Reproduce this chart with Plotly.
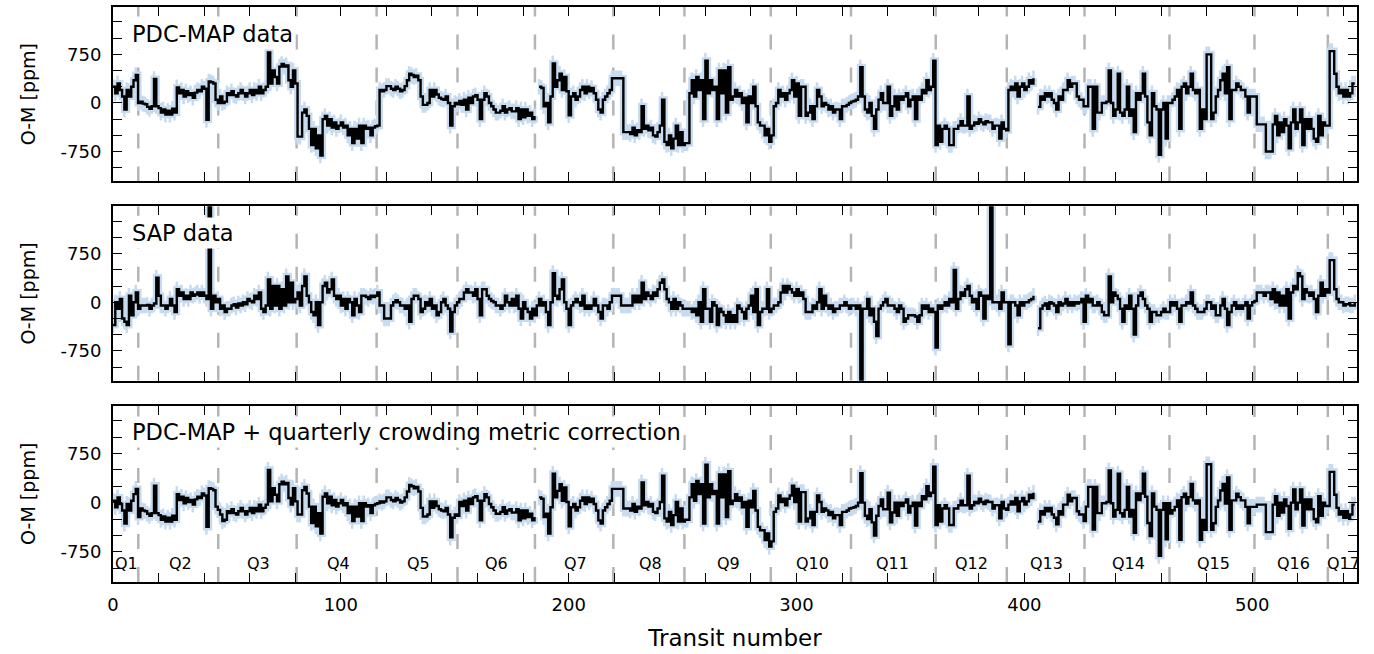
import plotly.graph_objects as go
from plotly.subplots import make_subplots

# ---------------- data ----------------
# O-M residuals per transit, ppm (None = no transit / gap)
pdc_map = [
    250, 150, 300, 200, 100, -100, 200, 100, 250, 350,          # 0
    430, 0, 20, -10, -20, -60, -90, -50, 370, -50,              # 10
    -80, -150, -100, -180, -120, -180, -90, -150, 240, 150,     # 20
    200, 100, 180, 120, 150, 80, 160, 200, 180, 250,            # 30
    220, -260, 330, 320, 300, 50, 0, 100, 0, 20,                # 40
    150, 120, 180, 120, 100, 150, 200, 150, 100, 150,           # 50
    200, 120, 200, 150, 250, 150, 200, 250, 780, 300,           # 60
    500, 400, 300, 560, 600, 560, 580, 350, 250, 500,           # 70
    300, -520, -520, -150, -100, -200, -400, -650, -400, -700,  # 80
    -500, -810, -250, -200, -350, -250, -380, -300, -400, -350, # 90
    -300, -380, -350, -500, -400, -620, -400, -550, -350, -620, # 100
    -350, -400, -380, -500, -380, -360, -350, 200, 180, 200,    # 110
    260, 260, 220, 200, 250, 220, 180, 200, 260, 350,           # 120
    450, 430, 400, 420, 350, 100, -30, -30, 0, 200,             # 130
    100, 200, 130, 80, 60, 50, 100, 0, -350, -50,               # 140
    0, -20, 30, -30, 50, -100, 80, 0, 100, 120,                 # 150
    50, -250, 50, 150, 100, 0, -50, -100, -150, -150,           # 160
    -120, -50, -150, -100, -80, -130, -130, -80, -250, -100,    # 170
    -220, -100, -200, -150, -250, -200, None, 250, 230, -50,    # 180
    0, -300, 100, 610, 250, 350, 450, 200, 400, 180,            # 190
    -190, 100, 150, 50, 100, 200, 250, 150, 250, 180,           # 200
    230, 150, 50, -100, -150, 50, 100, 150, 200, 380,           # 210
    380, 380, 380, 380, -450, -450, -450, -480, -380, -500,     # 220
    -420, -450, -50, -400, -350, -420, -380, -500, -520, -450,  # 230
    -350, 50, -600, -650, -500, -700, -550, -350, -650, -450,   # 240
    -650, -620, -620, 150, 350, 100, 400, 200, 350, -250,       # 250
    650, 150, 350, 200, 250, -250, 500, 150, 500, -150,         # 260
    550, 50, 100, 200, 100, 150, 0, 80, -300, 100,              # 270
    0, 250, -50, -300, -350, -350, -500, -400, -600, -500,      # 280
    -50, 0, 200, 100, 150, 50, 150, 200, 350, 100,              # 290
    300, -200, 250, 250, -200, -150, -50, -250, -50, 200,       # 300
    100, -50, 0, -30, -100, -50, -150, -100, -100, -250,        # 310
    -50, -50, -30, 0, 20, 30, 50, 100, 550, 100,                # 320
    -100, -150, 0, -200, -400, -100, 50, 150, 0, 0,             # 330
    250, -200, -50, 100, -100, 100, 50, 100, 150, -50,          # 340
    50, 100, -250, 100, 50, 200, 150, 350, 200, 250,            # 350
    650, -650, -350, -600, -400, -350, -400, -650, -650, -400,  # 360
    -400, -350, -280, -350, -350, 100, -400, -350, -300, -320,  # 370
    -250, -300, -330, -280, -300, -300, -400, -350, -350, -550, # 380
    -300, -400, -420, 200, 250, 200, 300, 100, 250, 300,        # 390
    200, 250, 350, 300, 380, None, -60, 100, 50, 150,           # 400
    100, 150, 50, 0, -100, 100, 50, 200, 200, 350,              # 410
    250, 300, 300, 100, 50, 50, -50, -50, 250, 250,             # 420
    -400, 250, -150, -150, 0, 0, 20, 500, 0, -200,              # 430
    -100, 450, -150, -200, -100, 250, -200, -100, -450, 150,    # 440
    50, 150, 450, 100, -300, -500, 150, -50, -100, -800,        # 450
    -100, 0, -550, 0, 0, 50, 100, 200, -400, 250,               # 460
    300, 150, 250, 450, 200, 150, 200, -400, -100, -250,        # 470
    750, 750, -250, -150, 100, 200, 350, 450, 150, 550,         # 480
    -250, 200, 200, 300, 250, 200, 200, 100, -150, 100,         # 490
    100, 100, -330, -330, -330, -330, -750, -750, -750, -330,   # 500
    -200, -500, -300, -450, -250, -350, -700, -300, -100, -400, # 510
    -300, -100, -650, -250, -400, -250, -400, -550, -600, -200, # 520
    -500, -300, -350, -350, 800, 800, 450, 250, 150, 200,       # 530
    100, 200, 100, 150, 300, 300,                               # 540
]

sap = [
    -350, 0, -100, 50, -250, -300, -350, 100, -200, 0,          # 0
    150, -100, -50, -50, -50, -40, -100, -50, -20, 380,         # 10
    100, -50, -50, -100, -50, 50, -50, -150, 200, 100,          # 20
    150, 50, 100, 50, 150, 100, 120, 150, 100, 150,             # 30
    100, 50, 2000, -100, 100, 0, 50, -100, -50, -150,           # 40
    -100, -100, -50, -30, -80, -20, -50, 0, -30, 50,            # 50
    20, 0, 100, 50, 150, -100, -150, -50, 350, -100,            # 60
    250, -50, 250, -100, 200, -50, 400, 0, 300, 0,              # 70
    50, 150, -50, 250, 400, 100, 0, -150, -200, 0,              # 80
    -350, 0, 250, 300, 150, 200, 350, 100, 50, 100,             # 90
    -50, 50, -100, 50, 0, -200, 50, -50, -150, 100,             # 100
    100, 80, 50, 100, 80, 100, 150, -50, -50, -250,             # 110
    -250, -250, -50, 0, 30, 0, -50, -50, -100, -50,             # 120
    -300, 50, 100, 100, 50, -150, -100, 0, -50, 50,             # 130
    -100, -50, -200, -150, 0, 50, -50, -100, -450, -150,        # 140
    -50, 0, 50, 50, 150, 200, 150, 150, 100, 200,               # 150
    50, -200, 200, 200, 100, 50, 20, 0, -50, -50,               # 160
    -100, -50, 100, 0, -50, 50, -50, 100, -100, -250,           # 170
    0, -100, -150, -250, -100, -200, -50, 50, -50, 0,           # 180
    -150, -350, 0, 450, 100, 50, 200, 350, 0, -100,             # 190
    -350, -50, 0, 50, 0, -50, 100, -100, -50, -100,             # 200
    -50, 50, -50, -150, -250, -50, -50, -100, 0, 100,           # 210
    100, 100, 100, -50, -50, -50, -50, -50, 100, 0,             # 220
    100, 0, 300, 50, 150, 100, 50, 150, 100, 200,               # 230
    300, 350, 200, 50, 0, -100, 50, -100, 0, -50,               # 240
    -100, -100, -100, -100, -150, -100, -200, 0, -300, 200,     # 250
    -100, -100, -300, 0, -50, -350, -100, -150, -200, -300,     # 260
    -150, -300, -200, -300, -50, -100, -150, -250, -100, -50,   # 270
    100, -150, 200, -350, -150, -100, -100, 200, -150, -100,    # 280
    -50, -50, 0, 150, 250, 150, 250, 200, 150, 100,             # 290
    200, 100, 150, 50, -150, -150, -150, -50, -100, 0,          # 300
    200, -100, 100, -50, -100, -50, -150, -100, -100, -50,      # 310
    -50, 0, -50, -100, -50, -50, -100, -50, -2000, -100,        # 320
    -100, 50, -200, -100, -300, -520, -100, -50, 0, 50,         # 330
    -50, -50, -50, -100, -150, -50, -100, -300, -250, -200,     # 340
    -200, -200, -220, -300, -200, -50, -100, -50, -150, -100,   # 350
    -150, -700, -50, -100, -50, 0, -50, 50, 0, 500,             # 360
    -100, 50, 150, 100, 200, 250, 100, 0, 50, -100,             # 370
    150, 100, -250, 100, 50, 2000, 0, 0, 0, -100,               # 380
    150, 0, 0, -650, 0, 0, -50, -200, 0, -50,                   # 390
    0, 0, 30, 50, 100, None, -400, -100, -50, -20,              # 400
    -100, 0, -20, -50, -150, 0, -50, -20, 50, -50,              # 410
    0, -50, 0, -20, 0, 50, -300, 100, 0, 50,                    # 420
    -50, -50, 0, -50, -150, -200, -200, 400, 0, 150,            # 430
    100, 50, -100, -300, -50, -100, 100, -100, -500, -50,       # 440
    100, 150, 50, -50, -100, -300, -150, -150, -200, -200,      # 450
    -150, -100, -150, -150, 0, -50, 0, -100, -300, -50,         # 460
    -50, 0, -20, 150, -50, -100, -150, -150, -150, -100,        # 470
    0, 0, -100, -50, -200, -200, -50, 50, -100, -350,           # 480
    -150, -50, 0, -100, -50, -100, -50, 0, -250, -50,           # 490
    0, 20, 150, 150, 150, 100, 150, 150, 50, 200,               # 500
    0, 150, -50, 100, -50, 200, -250, 150, 250, 200,            # 510
    450, 400, 50, 200, 150, 100, 150, 50, -150, 100,            # 520
    300, 100, 200, 150, 650, 650, 200, 50, 0, 0,                # 530
    -50, -30, -30, -50, -50, 0,                                 # 540
]

# Kepler quarters: first transit of each quarter and the per-quarter
# crowding-metric shift (ppm)
quarter_names = ["Q1", "Q2", "Q3", "Q4", "Q5", "Q6", "Q7", "Q8", "Q9",
                 "Q10", "Q11", "Q12", "Q13", "Q14", "Q15", "Q16", "Q17"]
quarter_first_transit = [0, 12, 47, 81, 117, 152, 186, 224, 253, 289,
                         324, 361, 393, 427, 464, 502, 534]
quarter_shift = [220, 110, 280, -340, 180, 20, 170, -360, 70, 90,
                 100, -310, 230, 10, 165, -300, 330]
quarter_boundaries = [11.1, 46.2, 80.6, 115.7, 151.2, 185.2, 219.6, 250.8,
                      288.7, 323.9, 361.1, 392.3, 426.4, 463.7, 501.0, 533.2]
quarter_label_x = [6, 29.5, 64, 99, 134, 168.5, 203, 235.7, 270, 307,
                   342, 377, 409.6, 445.6, 483, 518, 540]

panel_titles = ["PDC-MAP data", "SAP data",
                "PDC-MAP + quarterly crowding metric correction"]

assert len(pdc_map) == 546 and len(sap) == 546

transit = list(range(len(pdc_map)))


def quarter_of(t):
    q = 0
    for i, s in enumerate(quarter_first_transit):
        if t >= s:
            q = i
    return q


pdc_corrected = [None if v is None else v - quarter_shift[quarter_of(t)]
                 for t, v in zip(transit, pdc_map)]

series = [pdc_map, sap, pdc_corrected]

# ---------------- figure ----------------
W, H = 1374, 654
ml, mr, mt, mb = 113, 17, 5, 72
fig = make_subplots(rows=3, cols=1, shared_xaxes=False, vertical_spacing=0.0)

plot_h = H - mt - mb
panels_px = [(5, 180), (205, 380), (405, 582)]
domains = [[(582 - b) / plot_h, (582 - t) / plot_h] for t, b in panels_px]

LIGHT = "#c6dbef"
YR = [-1210, 1480]
XR = [0, 546]

for i, ys in enumerate(series):
    r = i + 1
    fig.add_trace(go.Scatter(
        x=transit, y=ys, mode="lines", line=dict(color=LIGHT, width=7, shape="hv"),
        error_y=dict(type="constant", value=120, color=LIGHT, thickness=2.5, width=0),
        hoverinfo="skip", showlegend=False, connectgaps=False), row=r, col=1)
    fig.add_trace(go.Scatter(
        x=transit, y=ys, mode="lines", line=dict(color="black", width=2.4, shape="hv"),
        showlegend=False, connectgaps=False), row=r, col=1)

ytickvals = list(range(-1000, 1251, 250))
yticktext = [str(v) if v in (-750, 0, 750) else "" for v in ytickvals]
xtickvals = list(range(0, 541, 20))
xticktext = [str(v) if v % 100 == 0 else "" for v in xtickvals]

for i in range(3):
    r = i + 1
    fig.update_yaxes(row=r, col=1, domain=domains[i], range=YR,
                     tickvals=ytickvals, ticktext=yticktext,
                     ticks="inside", ticklen=9, tickwidth=1, tickcolor="black",
                     showline=True, linewidth=2, linecolor="black", mirror="ticks",
                     showgrid=False, zeroline=False,
                     tickfont=dict(family="DejaVu Sans", size=18, color="black"),
                     ticklabelstandoff=6,
                     title=dict(text="O-M [ppm]", standoff=20,
                                font=dict(family="DejaVu Sans", size=19, color="black")))
    fig.update_xaxes(row=r, col=1, range=XR,
                     tickvals=xtickvals, ticktext=xticktext,
                     ticks="inside", ticklen=9, tickwidth=1, tickcolor="black",
                     showline=True, linewidth=2, linecolor="black", mirror="ticks",
                     showgrid=False, zeroline=False,
                     showticklabels=(r == 3),
                     tickfont=dict(family="DejaVu Sans", size=18, color="black"),
                     ticklabelstandoff=5)

fig.update_xaxes(row=3, col=1,
                 title=dict(text="Transit number", standoff=16,
                            font=dict(family="DejaVu Sans", size=23, color="black")))

# quarter boundaries
for i in range(3):
    xref = "x" if i == 0 else f"x{i+1}"
    yref = "y" if i == 0 else f"y{i+1}"
    for b in quarter_boundaries:
        fig.add_shape(type="line", x0=b, x1=b, y0=YR[0], y1=YR[1],
                      xref=xref, yref=yref, layer="below",
                      line=dict(color="#b4b4b4", width=2.5, dash="15px,18px"))
    fig.add_annotation(x=7, y=1070, xref=xref, yref=yref, text=panel_titles[i],
                       showarrow=False, xanchor="left", yanchor="middle",
                       bgcolor="white", borderpad=2,
                       font=dict(family="DejaVu Sans", size=22.5, color="black"))

for name, xq in zip(quarter_names, quarter_label_x):
    fig.add_annotation(x=xq, y=-925, xref="x3", yref="y3", text=name,
                       showarrow=False, xanchor="center", yanchor="middle",
                       font=dict(family="DejaVu Sans", size=16, color="black"))

fig.update_layout(width=W, height=H, margin=dict(l=ml, r=mr, t=mt, b=mb),
                  plot_bgcolor="white", paper_bgcolor="white",
                  font=dict(family="DejaVu Sans", color="black"))

fig.write_html("out.html", config={"displayModeBar": False},
               post_script="document.body.style.margin='0px';document.body.style.padding='0px';")
